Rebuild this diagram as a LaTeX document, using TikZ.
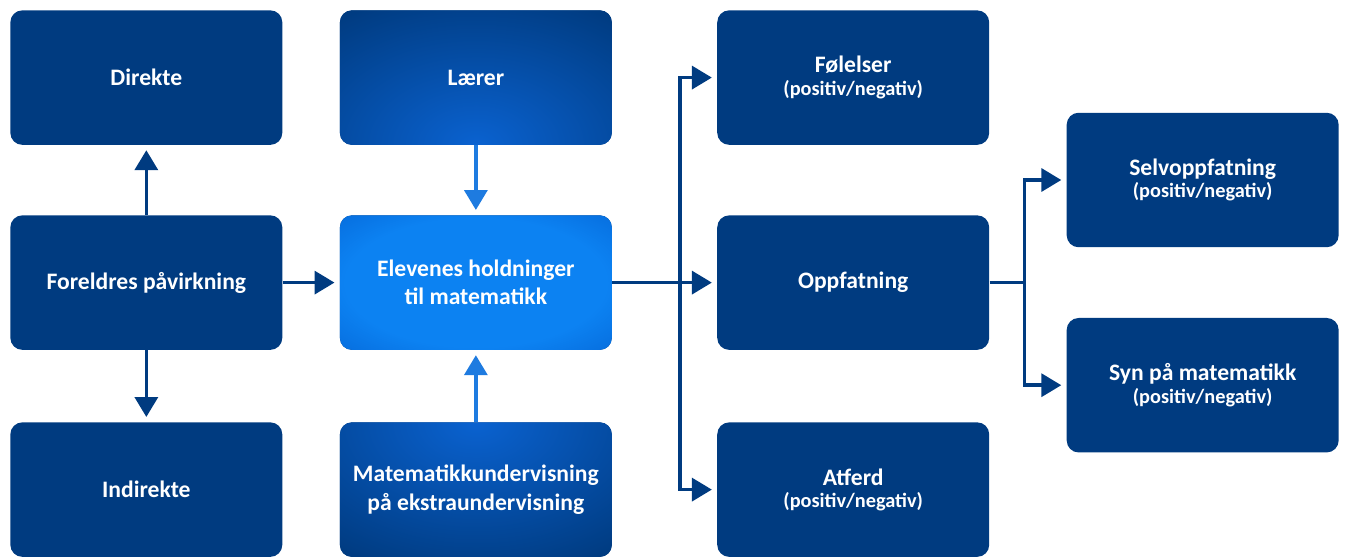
\documentclass[tikz,border=0pt]{standalone}
\usepackage{fontspec}
\setmainfont{Carlito}
\usetikzlibrary{arrows.meta,positioning,calc}

\definecolor{navy}{HTML}{003B80}
\definecolor{hubin}{HTML}{0C82F2}
\definecolor{hubout}{HTML}{0056C6}
\definecolor{glowblue}{HTML}{0A62D0}
\definecolor{liftblue}{HTML}{1E7BE0}
\pgfdeclareradialshading{hubglow}{\pgfpoint{0bp}{0bp}}{color(0bp)=(hubin); color(24bp)=(hubin); color(50bp)=(hubout); color(100bp)=(hubout)}
\pgfdeclareradialshading{edgeglow}{\pgfpoint{0bp}{0bp}}{color(0bp)=(glowblue); color(20bp)=(navy); color(100bp)=(navy)}
\newcommand\posneg{{\fontsize{10.2}{11}\selectfont (positiv/negativ)}}

\begin{document}
\begin{tikzpicture}[
  font=\bfseries\fontsize{11.85}{14.2}\selectfont,
  box/.style={rounded corners=6pt, minimum width=136.5pt, minimum height=67.5pt, inner sep=2pt, align=center, text=white, fill=navy},
  hub/.style={box, shading=hubglow},
  lowglow/.style={path picture={\shade[shading=edgeglow] (path picture bounding box.south) ellipse (150pt and 100pt);}},
  highglow/.style={path picture={\shade[shading=edgeglow] (path picture bounding box.north) ellipse (150pt and 100pt);}},
  flow/.style={-{Triangle[width=11.5pt,length=10pt]}, line width=1.8pt, draw=navy, shorten >=2.5pt},
  lift/.style={flow, draw=liftblue}
]
\node[box] (fore) {Foreldres påvirkning};
\node[box, above=35pt of fore] (dir) {Direkte};
\node[box, below=36pt of fore] (indir) {Indirekte};
\node[hub, right=28.5pt of fore] (elev) {Elevenes holdninger\\til matematikk};
\node[box, lowglow, above=35pt of elev] (laerer) {Lærer};
\node[box, highglow, below=36pt of elev] (under) {Matematikkundervisning\\på ekstraundervisning};
\node[box, right=52.5pt of elev] (oppf) {Oppfatning};
\node[box, above=35pt of oppf] (fol) {Følelser\\[-3pt]\posneg};
\node[box, below=36pt of oppf] (atf) {Atferd\\[-3pt]\posneg};
\node[box, right=38.5pt of oppf, yshift=51.5pt] (selv) {Selvoppfatning\\[-3pt]\posneg};
\node[box, right=38.5pt of oppf, yshift=-51.5pt] (syn) {Syn på matematikk\\[-3pt]\posneg};

\coordinate[right=34pt of elev] (split);
\coordinate[right=17.5pt of oppf] (fork);

\draw[flow] (fore) -- (dir);
\draw[flow] (fore) -- (indir);
\draw[flow] (fore) -- (elev);
\draw[lift] (laerer) -- (elev);
\draw[lift] (under) -- (elev);
\draw[flow] (elev) -- (oppf);
\draw[flow] (split) |- (fol);
\draw[flow] (split) |- (atf);
\draw[flow] (oppf) -- (fork) |- (selv);
\draw[flow] (fork) |- (syn);

\pgfresetboundingbox
\useasboundingbox ($(dir.north west)+(-5pt,5pt)$) rectangle ($(indir.south west -| syn.east)+(4pt,-0.5pt)$);
\end{tikzpicture}
\end{document}
